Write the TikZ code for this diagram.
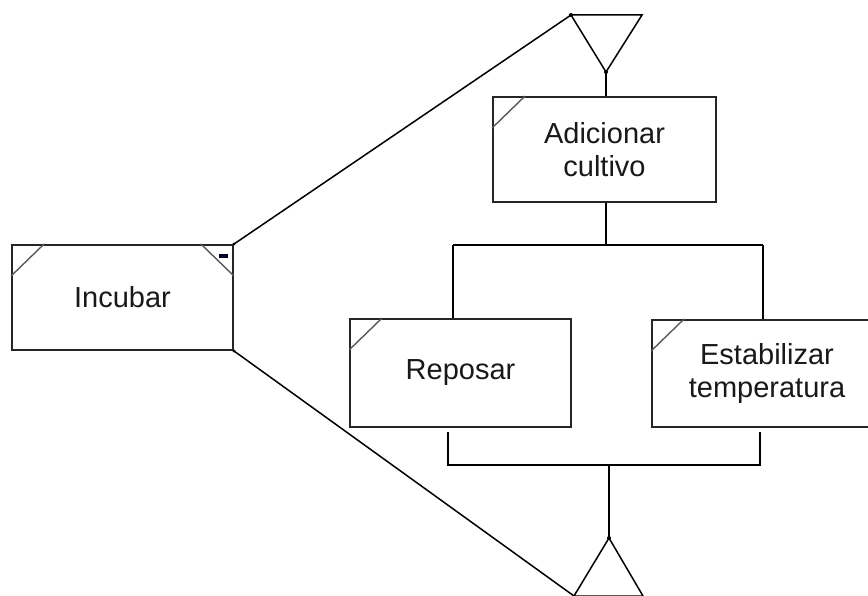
\documentclass[tikz,border=0pt]{standalone}
\usepackage{fontspec}
\setmainfont{Liberation Sans}
\begin{document}
\begin{tikzpicture}[x=1pt,y=-1pt,
  task/.style={draw=black!85, line width=1.9pt, fill=white, align=center,
    inner sep=0pt, font=\fontsize{29}{32.5}\selectfont, text=black!90},
  link/.style={draw=black, line width=1.5pt},
  cut/.style={draw=black!65, line width=1.4pt}]
\useasboundingbox (0,0) rectangle (868,596);
\begin{scope}
\clip (0,0) rectangle (868,596);

% activity boxes
\node[task, minimum width=221pt, minimum height=105pt] (inc) at (122.5,297.5) {Incubar};
\node[task, minimum width=223pt, minimum height=105pt] (add) at (604.5,149.5) {Adicionar\\cultivo};
\node[task, minimum width=221pt, minimum height=108pt] (rep) at (460.5,373) {Reposar};
\node[task, minimum width=230pt, minimum height=107pt] (est) at (767,373.5) {Estabilizar\\temperatura};

% folded corners
\foreach \n in {inc,add,rep,est}
  \draw[cut] ([yshift=-32pt]\n.north west) -- ([xshift=33pt]\n.north west);
\draw[cut] ([yshift=-32pt]inc.north east) -- ([xshift=-33pt]inc.north east);
% collapse mark
\fill[black!85!blue] (219,254) rectangle (228,258);

% start and end triangles
\coordinate (t1) at (571,15);
\coordinate (t2) at (642,15);
\coordinate (t3) at (606,72);
\draw[link] (t1) -- (t2) -- (t3) -- cycle;
\coordinate (b1) at (609,538);
\coordinate (b2) at (574,596);
\coordinate (b3) at (643,596);
\draw[link] (b1) -- (b2) -- (b3) -- cycle;

% decomposition lines
\draw[link] (inc.north east) -- (t1);
\draw[link] (inc.south east) -- (b2);

% sequence and parallel branches
\coordinate (split) at (606,245);
\coordinate (sl) at (453,245);
\coordinate (sr) at (763,245);
\coordinate (jl) at (448,465);
\coordinate (jr) at (760,465);
\coordinate (jm) at (609,465);
\draw[link] (t3) -- (add.north -| t3);
\draw[link] (add.south -| split) -- (split);
\draw[link] (sl) -- (sr);
\draw[link] (sl) -- (rep.north -| sl);
\draw[link] (sr) -- (est.north -| sr);
\draw[link] ([yshift=-4pt]rep.south -| jl) -- (jl) -- (jr) -- ([yshift=-4pt]est.south -| jr);
\draw[link] (jm) -- (b1);

% junction dots
\fill (t1) circle (2pt);
\fill (t3) circle (2pt);
\fill (b1) circle (2pt);
\fill (inc.north east) circle (1.6pt);
\fill (inc.south east) circle (1.6pt);
\end{scope}
\end{tikzpicture}
\end{document}
